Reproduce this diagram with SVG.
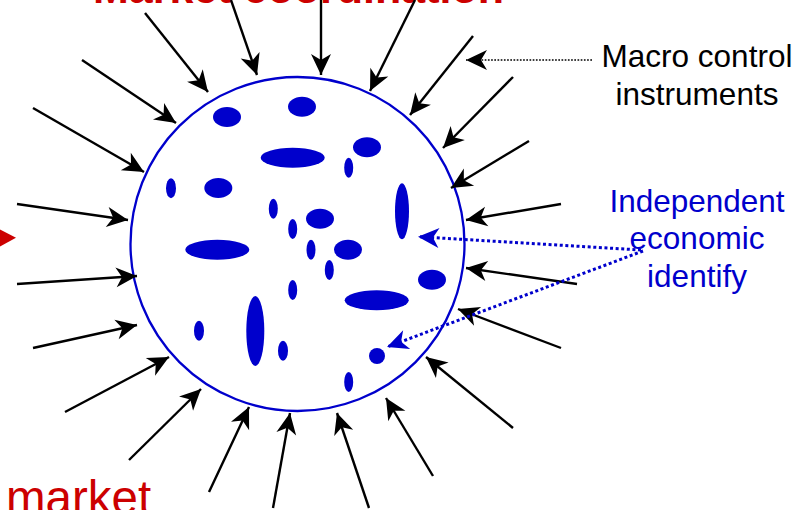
<svg xmlns="http://www.w3.org/2000/svg" width="810" height="510" viewBox="0 0 810 510">
<style>
.arr{stroke:#000;stroke-width:2.4;fill:none;marker-end:url(#ah)}
.blk{stroke:#000;stroke-width:1.7;fill:none;stroke-dasharray:1.7 1.5;marker-end:url(#ah)}
.blu{stroke:#0000CC;stroke-width:3;fill:none;stroke-dasharray:3 2.6;marker-end:url(#ahb)}
.ent{fill:#0000CC}
.lbl{font-family:"Liberation Sans",Arial,sans-serif;font-size:31.5px;text-anchor:middle}
.red{font-family:"Liberation Sans",Arial,sans-serif;fill:#CC0000}
</style>
<defs>
<marker id="ah" markerUnits="userSpaceOnUse" markerWidth="26" markerHeight="26" viewBox="-24 -13 26 26" refX="0" refY="0" orient="auto">
<path d="M0,0 L-21,-10 L-15,0 L-21,10 Z" fill="#000"/>
</marker>
<marker id="ahb" markerUnits="userSpaceOnUse" markerWidth="26" markerHeight="26" viewBox="-24 -13 26 26" refX="0" refY="0" orient="auto">
<path d="M0,0 L-21,-10 L-15,0 L-21,10 Z" fill="#0000CC"/>
</marker>
</defs>
<rect width="810" height="510" fill="#fff"/>

<g id="title-top">
<text class="red" x="93" y="3" font-size="43" font-weight="bold">Market coordination</text>
</g>
<g id="title-bottom">
<text class="red" x="6" y="514" font-size="47.5">market</text>
</g>
<g id="left-pointer">
<polygon points="0,229.5 16,237.7 0,246.5" fill="#CC0000"/>
</g>

<g id="economy">
<circle cx="297.5" cy="244" r="167" fill="none" stroke="#0000CC" stroke-width="2.3"/>
<g id="entities">
<ellipse class="ent" cx="227" cy="117" rx="14" ry="10"/>
<ellipse class="ent" cx="302" cy="106.7" rx="14" ry="10"/>
<ellipse class="ent" cx="292.7" cy="157.7" rx="32" ry="10"/>
<ellipse class="ent" cx="367" cy="147.3" rx="14" ry="10"/>
<ellipse class="ent" cx="348.7" cy="167.7" rx="4.5" ry="10"/>
<ellipse class="ent" cx="171" cy="188.3" rx="5" ry="10"/>
<ellipse class="ent" cx="218.3" cy="188" rx="14" ry="10"/>
<ellipse class="ent" cx="402" cy="211.3" rx="7" ry="28"/>
<ellipse class="ent" cx="273.3" cy="208.7" rx="4.5" ry="10"/>
<ellipse class="ent" cx="320" cy="218.7" rx="14" ry="10"/>
<ellipse class="ent" cx="292.7" cy="229" rx="4.5" ry="10"/>
<ellipse class="ent" cx="217.3" cy="249.7" rx="32" ry="10"/>
<ellipse class="ent" cx="311" cy="249.7" rx="4.5" ry="10"/>
<ellipse class="ent" cx="348" cy="249.7" rx="14" ry="10"/>
<ellipse class="ent" cx="329.3" cy="270" rx="4.5" ry="10"/>
<ellipse class="ent" cx="432" cy="279.7" rx="14" ry="10"/>
<ellipse class="ent" cx="292.7" cy="290" rx="4.5" ry="10"/>
<ellipse class="ent" cx="376.7" cy="300.3" rx="32" ry="10"/>
<ellipse class="ent" cx="199" cy="330.7" rx="5" ry="10"/>
<ellipse class="ent" cx="255.3" cy="331" rx="9" ry="35"/>
<ellipse class="ent" cx="283" cy="350.7" rx="5" ry="10"/>
<circle class="ent" cx="377" cy="356" r="8"/>
<ellipse class="ent" cx="348.7" cy="382" rx="4.5" ry="10"/>
</g>
</g>

<g id="label-macro">
<text class="lbl" x="697" y="67" fill="#000">Macro control</text>
<text class="lbl" x="697" y="104.5" fill="#000">instruments</text>
</g>
<g id="label-independent">
<text class="lbl" x="697" y="211.5" fill="#0000CC">Independent</text>
<text class="lbl" x="697" y="249" fill="#0000CC">economic</text>
<text class="lbl" x="697" y="286.5" fill="#0000CC">identify</text>
</g>

<g id="connectors">
<line class="arr" x1="145" y1="13" x2="208" y2="92"/>
<line class="arr" x1="231" y1="0" x2="257" y2="75"/>
<line class="arr" x1="321" y1="0" x2="321" y2="75"/>
<line class="arr" x1="415" y1="0" x2="370" y2="91"/>
<line class="arr" x1="473" y1="36" x2="410" y2="115"/>
<line class="arr" x1="513" y1="77" x2="443" y2="148"/>
<line class="arr" x1="529" y1="141" x2="451" y2="188"/>
<line class="arr" x1="561" y1="204" x2="466" y2="220"/>
<line class="arr" x1="577" y1="284" x2="466" y2="268"/>
<line class="arr" x1="561" y1="348" x2="458" y2="309"/>
<line class="arr" x1="513" y1="428" x2="426" y2="357"/>
<line class="arr" x1="433" y1="476" x2="386" y2="398"/>
<line class="arr" x1="369" y1="508" x2="337" y2="413"/>
<line class="arr" x1="273" y1="508" x2="290" y2="413"/>
<line class="arr" x1="209" y1="492" x2="249" y2="407"/>
<line class="arr" x1="129" y1="460" x2="201" y2="389"/>
<line class="arr" x1="65" y1="412" x2="169" y2="357"/>
<line class="arr" x1="33" y1="348" x2="137" y2="325"/>
<line class="arr" x1="17" y1="284" x2="137" y2="276"/>
<line class="arr" x1="17" y1="204" x2="128" y2="220"/>
<line class="arr" x1="33" y1="108" x2="144" y2="172"/>
<line class="arr" x1="82" y1="60" x2="176" y2="123"/>
<line class="blk" x1="592" y1="60" x2="466" y2="60"/>
<line class="blu" x1="641" y1="250" x2="418" y2="236.7"/>
<line class="blu" x1="643" y1="251" x2="387" y2="347"/>
</g>
</svg>
